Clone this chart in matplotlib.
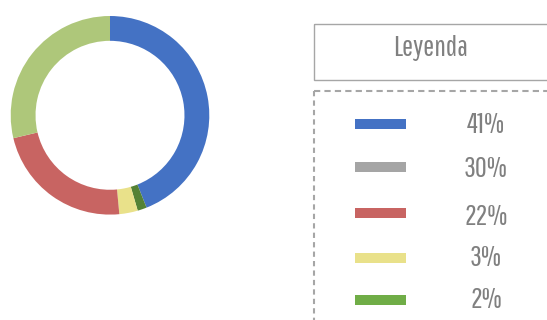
import matplotlib
matplotlib.use("Agg")
import matplotlib.pyplot as plt
from matplotlib.patches import Rectangle

plt.rcParams['lines.scale_dashes'] = False

# Donut data (read from the ring, clockwise from top)
ring_values = [44.0, 1.5, 3.0, 22.8, 28.7]
ring_colors = ['#4472C4', '#548235', '#E9E18A', '#C86462', '#AEC77A']

# Legend data
legend_title = "Leyenda"
legend_labels = ['41%', '30%', '22%', '3%', '2%']
legend_colors = ['#4472C4', '#A5A5A5', '#C86462', '#E9E18A', '#70AD47']

W, H = 547, 320
fig = plt.figure(figsize=(W / 100, H / 100), dpi=100)
fig.patch.set_facecolor('white')

# Donut axes (pixel-based placement)
cx, cy, r = 110.0, 115.3, 99.3
axp = fig.add_axes([(cx - r) / W, 1 - (cy + r) / H, 2 * r / W, 2 * r / H])
axp.pie(ring_values, colors=ring_colors, startangle=90, counterclock=False,
        radius=1.0, wedgeprops=dict(width=0.25, linewidth=0))
axp.set_xlim(-1, 1)
axp.set_ylim(-1, 1)
axp.set_aspect('auto')
axp.axis('off')

# Overlay axes in pixel coordinates for the legend panel
ax = fig.add_axes([0, 0, 1, 1])
ax.set_xlim(0, W)
ax.set_ylim(H, 0)
ax.axis('off')

gray = '#A6A6A6'
font = ['Pathway Gothic One', 'DejaVu Sans']

# Header box
ax.add_patch(Rectangle((313.5, 23.5), 260, 56, fill=False, edgecolor=gray, linewidth=1.0))
ax.text(431, 48, legend_title, ha='center', va='center', fontsize=21,
        color='#808080', family=font)

# Dashed frame
ax.plot([314, W], [91, 91], color=gray, lw=1.5, linestyle=(0, (4.5, 3)))
ax.plot([314, 314], [91, H], color=gray, lw=1.5, linestyle=(0, (3.8, 3)))

# Legend entries
bar_y = [124, 166.7, 213, 257.7, 300]
text_y = [125, 169, 217, 258, 300]
ax.barh(bar_y, [51] * len(bar_y), left=355, height=10, color=legend_colors, linewidth=0)
for ty, lab in zip(text_y, legend_labels):
    ax.text(486, ty, lab, ha='center', va='center', fontsize=21,
            color='#808080', family=font)

fig.savefig('out.png', dpi=100)
